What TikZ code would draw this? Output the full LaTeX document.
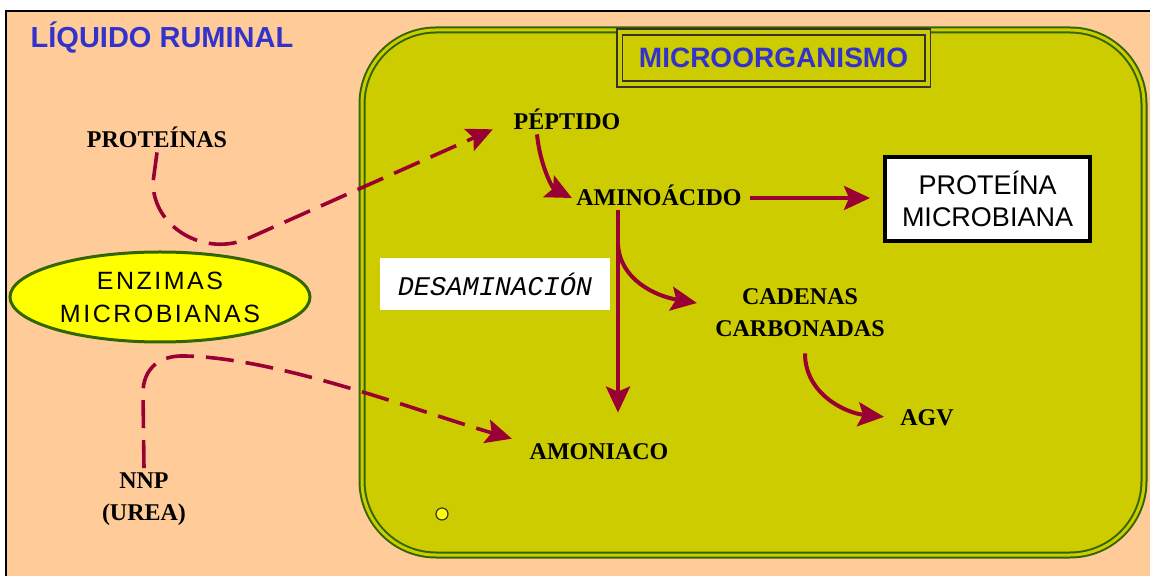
\documentclass[tikz,border=0pt]{standalone}
\usepackage{fontspec}
\setmainfont{Liberation Serif}
\newfontfamily\titfont{Liberation Sans}
\newfontfamily\enzfont[LetterSpace=10]{Liberation Sans}
\newfontfamily\desfont{Liberation Mono}
\usetikzlibrary{positioning,arrows.meta,shapes.geometric}
\definecolor{durazno}{RGB}{255,204,153}
\definecolor{oliva}{RGB}{204,204,0}
\definecolor{verdeosc}{RGB}{51,102,0}
\definecolor{granate}{RGB}{153,0,51}
\definecolor{azul}{RGB}{51,51,204}
\definecolor{amarillo}{RGB}{255,255,0}

\begin{document}
\begin{tikzpicture}[x=0.5pt,y=-0.5pt,
		lbl/.style={
			font=\bfseries\fontsize{12}{16}\selectfont,
			inner sep=2pt,
			align=center
		},
		una/.style={
			lbl,
			text height=8pt,
			text depth=0pt
		},
		tit/.style={
			text=azul,
			font=\titfont\bfseries\fontsize{14}{16}\selectfont
		},
		flecha/.style={
			draw=granate,
			line width=2pt,
			-{Stealth[length=13pt,width=12pt,inset=2.5pt]}
		},
		punteada/.style={
			flecha,
			line width=1.8pt,
			dash pattern=on 14pt off 6pt
		}
		]
		
		\fill[white] (0,0) rectangle (1150,576);
		\useasboundingbox (0,0) rectangle (1150,576);
		\draw[fill=durazno, line width=0.6pt] (6,11) rectangle (1300,700);
		
		% microorganismo
		\draw[fill=oliva, draw=verdeosc, double=oliva, double distance=1.5pt,
			line width=1pt, rounded corners=37pt] (362,30) rectangle (1144,555);
		\node[tit, draw=black!80, double=oliva, double distance=2pt, line width=0.9pt,
			minimum width=154pt, minimum height=26pt] (micro) at (773.5,58) {MICROORGANISMO};
		
		\node[tit, font=\titfont\bfseries\fontsize{14.5}{16}\selectfont] 
		(liq) at (162,38) {LÍQUIDO RUMINAL};
		
		\node[ellipse, draw=verdeosc, line width=1.5pt, fill=amarillo, minimum width=150pt,
			minimum height=45pt, inner sep=0pt, align=center,
			font=\enzfont\fontsize{12.5}{16.5}\selectfont] 
		(enz) at (160,297) {ENZIMAS\\MICROBIANAS};
		
		\node[una] (prot) at (157,140) {PROTEÍNAS};
		\node[una] (pep) at (567,122) {PÉPTIDO};
		\node[una] (amin) at (659,198) {AMINOÁCIDO};
		\node[lbl] (cad) at (800,313) {CADENAS\\CARBONADAS};
		\node[una] (agv) at (927,418) {AGV};
		\node[una] (amon) at (599,451) {AMONIACO};
		\node[lbl] (nnp) at (144,499) {NNP\\(UREA)};
		
		\node[draw, line width=2pt, fill=white, minimum width=102.5pt, minimum height=42pt,
			align=center, font=\titfont\fontsize{13.5}{16}\selectfont] 
		(protm) at (987.5,199) {PROTEÍNA\\MICROBIANA};
		\node[fill=white, minimum width=115pt, minimum height=26pt, inner sep=0pt,
			font=\desfont\itshape\fontsize{13.5}{16}\selectfont] 
		(desam) at (495,284) {DESAMINACIÓN};
		\node[circle, draw=black!80, fill=amarillo, minimum size=6pt, inner sep=0pt,
			line width=0.6pt] (punto) at (442,514) {};
		
		% flechas
		\draw[punteada, shorten >=9pt] (prot.south) -- ++(-4,30) .. controls +(0,45) and (205,258) .. (249,238) -- (pep.west);
		\draw[punteada, shorten >=7pt] (nnp.north) -- ++(-1,-75) .. controls +(0,-25) and (160,355) .. (185,356) .. controls (280,358) and (420,412) .. ([yshift=-2pt]amon.north west);
		
		\draw[flecha] ([xshift=-15pt]pep.south) .. controls +(3,30) and (552,188) .. (amin.west);
		\draw[flecha, shorten <=2pt, shorten >=6.5pt] (amin.east) -- (amin.east -| protm.west);
		
		\coordinate (bif) at ([xshift=-20.5pt]amin.south);
		\draw[flecha, shorten >=13pt] (bif) -- (bif |- amon.north);
		\draw[flecha] ([yshift=-17pt]bif) .. controls +(2,35) and (655,296) .. ([xshift=-7pt,yshift=5pt]cad.west);
		\draw[flecha, shorten >=6pt] ([xshift=2.5pt,yshift=-6pt]cad.south) .. controls +(0,40) and (845,413) .. (agv.west);
		
\end{tikzpicture}
\end{document}
